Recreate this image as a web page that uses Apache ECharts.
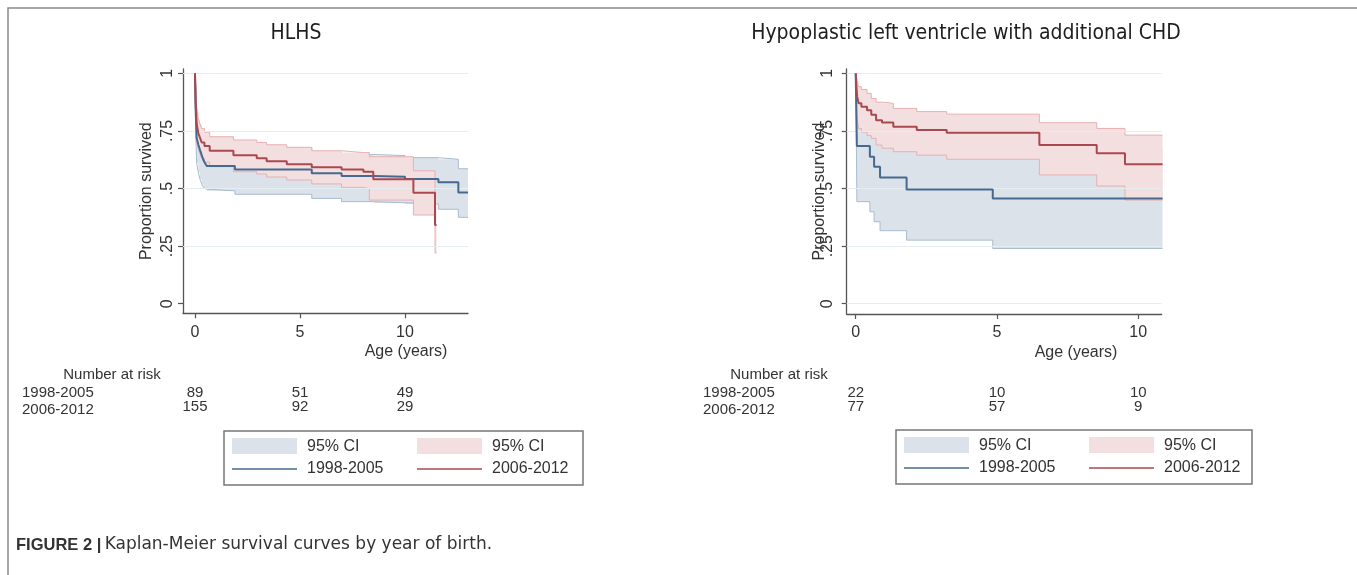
<!DOCTYPE html>
<html><head><meta charset="utf-8">
<script src="https://cdn.jsdelivr.net/npm/echarts@6/dist/echarts.min.js"></script>
<style>html,body{margin:0;padding:0;background:#fff}#c{width:1357px;height:575px}</style>
</head><body><div id="c"></div>
<script>
// ---------- data ----------
const groups = ['1998-2005', '2006-2012'];
const yTicks = [0, 0.25, 0.5, 0.75, 1];
const xTicks = [0, 5, 10];
const panelTitles = ['HLHS', 'Hypoplastic left ventricle with additional CHD'];

// HLHS, 1998-2005
const hlhsA_t  = [0,0.03,0.08,0.16,0.24,0.32,0.40,0.48,0.56,1.90,5.56,6.98,8.49,10.0,11.59,12.54,13.0];
const hlhsA_s  = [1,0.85,0.72,0.69,0.667,0.645,0.624,0.61,0.598,0.583,0.566,0.554,0.551,0.541,0.527,0.483,0.483];
const hlhsA_lo = [1,0.75,0.61,0.57,0.54,0.52,0.505,0.497,0.49,0.475,0.457,0.443,0.438,0.433,0.41,0.375,0.375];
const hlhsA_hi = [1,0.92,0.80,0.78,0.76,0.74,0.72,0.705,0.692,0.677,0.66,0.648,0.643,0.634,0.627,0.586,0.586];
// HLHS, 2006-2012
const hlhsB_t  = [0,0.03,0.08,0.16,0.24,0.32,0.45,0.70,1.83,2.94,3.41,4.37,5.56,6.98,8.02,8.30,8.49,10.40,11.43,11.50];
const hlhsB_s  = [1,0.88,0.78,0.74,0.72,0.70,0.685,0.664,0.645,0.631,0.619,0.605,0.592,0.583,0.573,0.573,0.54,0.482,0.342,0.342];
const hlhsB_lo = [1,0.80,0.70,0.67,0.65,0.63,0.615,0.595,0.573,0.563,0.55,0.537,0.52,0.505,0.50,0.45,0.45,0.385,0.22,0.22];
const hlhsB_hi = [1,0.95,0.85,0.80,0.78,0.76,0.745,0.725,0.711,0.70,0.69,0.679,0.664,0.656,0.656,0.638,0.638,0.577,0.48,0.48];
// Additional CHD, 1998-2005
const chdA_t  = [0,0.04,0.50,0.65,0.86,1.80,4.85,10.86];
const chdA_s  = [1,0.685,0.638,0.595,0.548,0.496,0.457,0.457];
const chdA_lo = [1,0.443,0.399,0.356,0.317,0.276,0.240,0.240];
const chdA_hi = [1,0.86,0.83,0.80,0.76,0.71,0.67,0.67];
// Additional CHD, 2006-2012
const chdB_t  = [0,0.02,0.05,0.10,0.20,0.40,0.55,0.72,0.93,1.33,2.16,3.22,6.50,8.53,9.53,10.86];
const chdB_s  = [1,0.95,0.90,0.87,0.855,0.84,0.82,0.797,0.787,0.768,0.754,0.742,0.689,0.653,0.606,0.606];
const chdB_lo = [1,0.88,0.80,0.761,0.745,0.73,0.718,0.689,0.675,0.66,0.645,0.627,0.559,0.511,0.45,0.45];
const chdB_hi = [1,0.99,0.965,0.942,0.93,0.913,0.891,0.875,0.87,0.848,0.834,0.823,0.786,0.761,0.732,0.732];

// number at risk
const riskTimes = [0, 5, 10];
const hlhsRiskA = [89, 51, 49];
const hlhsRiskB = [155, 92, 29];
const chdRiskA  = [22, 10, 10];
const chdRiskB  = [77, 57, 9];

// ---------- styling ----------
const FONT = "'Liberation Sans', Arial, sans-serif";
const TFONT = "'DejaVu Sans Condensed', 'DejaVu Sans', sans-serif";
const BLUE = '#46698f', RED = '#aa4850';
const BLUE_FILL = '#dce2ea', RED_FILL = '#f4dfe0';
const BLUE_EDGE = '#a9bbcf', RED_EDGE = '#e6b0b2';
const AXIS = '#555';

const chart = echarts.init(document.getElementById('c'));

const grids = [
  {left: 183, top: 69, width: 285, height: 244.3},
  {left: 846.7, top: 69, width: 315, height: 245}
];
const xr = [[-0.571, 13.0], [-0.32, 10.83]];
const yr = [[-0.0417, 1.019], [-0.0447, 1.019]];
const yFmt = v => v === 0 ? '0' : v === 1 ? '1' : String(v).replace(/^0/, '');

function xAxis(i) {
  return {gridIndex: i, type: 'value', min: xr[i][0], max: xr[i][1],
    axisLine: {show: true, onZero: false, lineStyle: {color: AXIS, width: 1.3}},
    axisTick: {show: true, length: 5, customValues: xTicks, lineStyle: {color: AXIS, width: 1.2}},
    axisLabel: {customValues: xTicks, color: '#333', fontSize: 16, fontFamily: FONT, margin: 11},
    splitLine: {show: false}};
}
function yAxis(i) {
  return {gridIndex: i, type: 'value', min: yr[i][0], max: yr[i][1],
    axisLine: {show: true, onZero: false, lineStyle: {color: AXIS, width: 1.3}},
    axisTick: {show: true, length: 5, customValues: yTicks, lineStyle: {color: AXIS, width: 1.2}},
    axisLabel: {customValues: yTicks, rotate: 90, formatter: yFmt, color: '#333', fontSize: 16, fontFamily: FONT, margin: i === 0 ? 7 : 11},
    splitLine: {show: false},
    name: 'Proportion survived', nameLocation: 'middle', nameRotate: 90, nameGap: i === 0 ? 28 : 19,
    nameMoveOverlap: false,
    nameTextStyle: {color: '#333', fontSize: 16, fontFamily: FONT}};
}

// confidence band: opaque filled step polygon (custom series) + thin edge lines
function band(i, t, lo, hi, fill, edge, z, grid) {
  const data = t.map((x, k) => [x, lo[k], hi[k]]);
  const poly = {
    type: 'custom', xAxisIndex: i, yAxisIndex: i, silent: true, z: z,
    data: data, encode: {x: 0, y: [1, 2]},
    renderItem: function (params, api) {
      if (params.dataIndex !== 0) return null;
      const up = [], dn = [];
      for (let k = 0; k < data.length; k++) {
        const x0 = data[k][0], x1 = k + 1 < data.length ? data[k + 1][0] : data[k][0];
        up.push(api.coord([x0, data[k][2]]), api.coord([x1, data[k][2]]));
        dn.push(api.coord([x0, data[k][1]]), api.coord([x1, data[k][1]]));
      }
      return {type: 'polygon', shape: {points: up.concat(dn.reverse())}, style: {fill: fill, stroke: null}};
    }
  };
  const loLine = {type: 'line', xAxisIndex: i, yAxisIndex: i, step: 'end', symbol: 'none', silent: true, z: z,
    data: data.map(d => [d[0], d[1]]), lineStyle: {color: edge, width: 1}};
  const hiLine = {type: 'line', xAxisIndex: i, yAxisIndex: i, step: 'end', symbol: 'none', silent: true, z: z,
    data: data.map(d => [d[0], d[2]]), lineStyle: {color: edge, width: 1}};
  const out = [poly, loLine, hiLine];
  if (grid) {
    out.unshift({type: 'line', xAxisIndex: i, yAxisIndex: i, silent: true, z: 0, symbol: 'none', data: [],
      markLine: {silent: true, symbol: 'none', label: {show: false}, animation: false,
        lineStyle: {color: '#e4eef1', width: 1, type: 'solid'},
        data: grid.map(v => ({yAxis: v}))}});
  }
  return out;
}
function km(i, t, s, color) {
  return {type: 'line', xAxisIndex: i, yAxisIndex: i, step: 'end', symbol: 'none', silent: true,
    data: t.map((x, k) => [x, s[k]]), lineStyle: {color: color, width: 2}, z: 5};
}

const series = [
  ...band(0, hlhsA_t, hlhsA_lo, hlhsA_hi, BLUE_FILL, BLUE_EDGE, 1, [0.25, 0.5, 0.75, 1]),
  ...band(0, hlhsB_t, hlhsB_lo, hlhsB_hi, RED_FILL, RED_EDGE, 2),
  km(0, hlhsA_t, hlhsA_s, BLUE),
  km(0, hlhsB_t, hlhsB_s, RED),
  ...band(1, chdA_t, chdA_lo, chdA_hi, BLUE_FILL, BLUE_EDGE, 1, [0, 0.25, 0.5, 0.75, 1]),
  ...band(1, chdB_t, chdB_lo, chdB_hi, RED_FILL, RED_EDGE, 2),
  km(1, chdA_t, chdA_s, BLUE),
  km(1, chdB_t, chdB_s, RED)
];

chart.setOption({
  animation: false,
  backgroundColor: '#fff',
  grid: grids,
  xAxis: [xAxis(0), xAxis(1)],
  yAxis: [yAxis(0), yAxis(1)],
  series: series
});

// ---------- text / legend / table as graphic elements ----------
const els = [];
els.push({type: 'rect', shape: {x: 8, y: 8, width: 1360, height: 580}, style: {fill: 'none', stroke: '#8a8a8a', lineWidth: 1.5}, silent: true});
function text(x, y, str, opt) {
  els.push({type: 'text', x: x, y: y, silent: true, style: Object.assign({text: str, fill: '#333', font: '16px ' + FONT, textAlign: 'left', textVerticalAlign: 'middle'}, opt || {})});
}
text(296, 34, panelTitles[0], {font: '21px ' + TFONT, textAlign: 'center', fill: '#1e1e1e'});
text(966, 34, panelTitles[1], {font: '21px ' + TFONT, textAlign: 'center', fill: '#1e1e1e'});
text(406, 352, 'Age (years)', {textAlign: 'center'});
text(1076, 353, 'Age (years)', {textAlign: 'center'});

function riskTable(i, labelX, headX, a, b) {
  const f = '15px ' + FONT;
  text(headX, 375, 'Number at risk', {textAlign: 'center', font: f});
  text(labelX, 393, groups[0], {font: f});
  text(labelX, 410, groups[1], {font: f});
  riskTimes.forEach((t, k) => {
    const px = chart.convertToPixel({xAxisIndex: i}, t);
    text(px, 393, String(a[k]), {textAlign: 'center', font: f});
    text(px, 407, String(b[k]), {textAlign: 'center', font: f});
  });
}
riskTable(0, 22, 112, hlhsRiskA, hlhsRiskB);
riskTable(1, 703, 779, chdRiskA, chdRiskB);

function legendBox(x0, y0, w) {
  els.push({type: 'rect', shape: {x: x0, y: y0, width: w, height: 54}, style: {fill: '#fff', stroke: '#777', lineWidth: 1.5}, silent: true});
  els.push({type: 'rect', shape: {x: x0 + 8, y: y0 + 7, width: 65, height: 16}, style: {fill: BLUE_FILL}, silent: true});
  els.push({type: 'rect', shape: {x: x0 + 193, y: y0 + 7, width: 65, height: 16}, style: {fill: RED_FILL}, silent: true});
  els.push({type: 'line', shape: {x1: x0 + 8, y1: y0 + 38, x2: x0 + 73, y2: y0 + 38}, style: {stroke: BLUE, lineWidth: 1.6}, silent: true});
  els.push({type: 'line', shape: {x1: x0 + 193, y1: y0 + 38, x2: x0 + 258, y2: y0 + 38}, style: {stroke: RED, lineWidth: 1.6}, silent: true});
  text(x0 + 83, y0 + 16, '95% CI');
  text(x0 + 268, y0 + 16, '95% CI');
  text(x0 + 83, y0 + 38, groups[0]);
  text(x0 + 268, y0 + 38, groups[1]);
}
legendBox(224, 431, 359);
legendBox(896, 430, 356);

els.push({type: 'text', x: 16, y: 545, silent: true, style: {
  text: '{b|FIGURE 2 |} {r|Kaplan-Meier survival curves by year of birth.}',
  fill: '#333', textVerticalAlign: 'middle',
  rich: {
    b: {fontWeight: 'bold', fontSize: 16.5, fontFamily: FONT, fill: '#333'},
    r: {fontSize: 17, fontFamily: "'DejaVu Sans', sans-serif", fill: '#333'}
  }}});

chart.setOption({graphic: {elements: els}});
</script></body></html>
